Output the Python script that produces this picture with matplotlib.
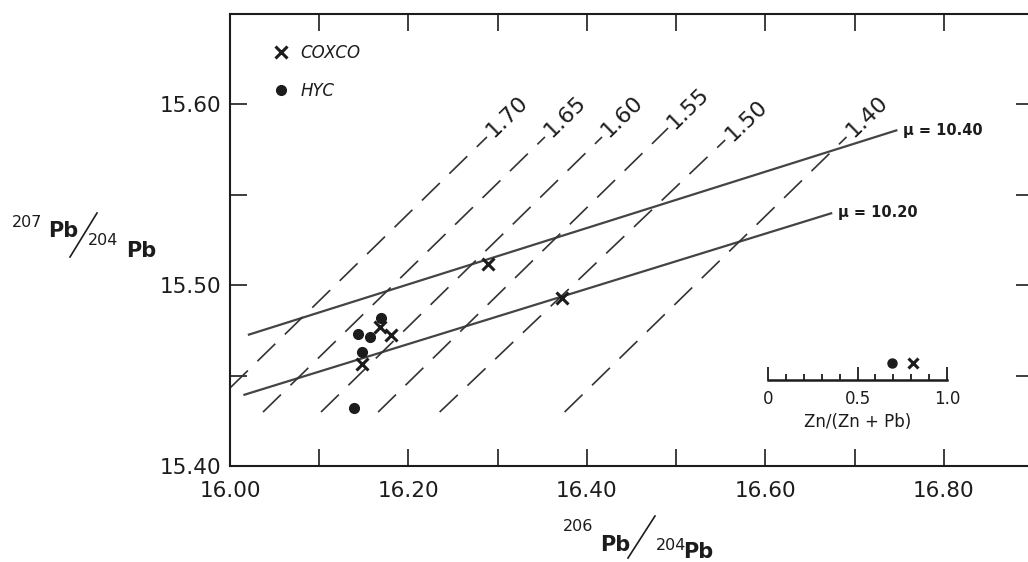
import math

import matplotlib
matplotlib.use("Agg")

import matplotlib.pyplot as plt
from matplotlib.lines import Line2D
from matplotlib.ticker import FuncFormatter, MultipleLocator

# ── Data ────────────────────────────────────────────────────────────────────
# growth curves (mu values), start / end points
mu_labels = ["μ = 10.40", "μ = 10.20"]
mu_x0 = [16.020, 16.015]
mu_y0 = [15.4724, 15.4392]
mu_x1 = [16.748, 16.675]
mu_y1 = [15.5856, 15.5398]

# dashed reference lines, start / end points
ref_labels = ["1.70", "1.65", "1.60", "1.55", "1.50", "1.40"]
ref_x0 = [16.000, 16.037, 16.102, 16.166, 16.235, 16.375]
ref_y0 = [15.4431, 15.4298, 15.4298, 15.4298, 15.4298, 15.4298]
ref_x1 = [16.288, 16.353, 16.417, 16.491, 16.555, 16.691]
ref_y1 = [15.5818, 15.5818, 15.5818, 15.5867, 15.5801, 15.5818]

# samples
coxco_x = [16.289, 16.372, 16.168, 16.181, 16.148]
coxco_y = [15.5116, 15.4927, 15.4766, 15.4721, 15.4566]
hyc_x = [16.169, 16.143, 16.157, 16.148, 16.139]
hyc_y = [15.4816, 15.4728, 15.4714, 15.4631, 15.4322]

# Zn/(Zn+Pb) inset
inset_x = [0.69, 0.81]
inset_y = [0.68, 0.68]
inset_marker = ["o", "x"]

_INK = "#1c1c1c"
_LINE = "#444444"

W, H = 1028, 562


def fx(px):
    return px / W


def fy(py):
    return 1 - py / H


fig = plt.figure(figsize=(W / 100, H / 100), dpi=100)
fig.patch.set_facecolor("white")

# main axes: 16.00 at x=230, 16.90 at x=1033 ; 15.40 at y=466, 15.65 at y=13.5
ax = fig.add_axes([fx(230), fy(466), (1033 - 230) / W, (466 - 13.5) / H])
ax.set_xlim(16.0, 16.9)
ax.set_ylim(15.40, 15.65)

for s in ax.spines.values():
    s.set_linewidth(1.5)
    s.set_color(_INK)

ax.xaxis.set_major_locator(MultipleLocator(0.1))
ax.yaxis.set_major_locator(MultipleLocator(0.05))
ax.xaxis.set_major_formatter(FuncFormatter(
    lambda v, p: f"{v:.2f}" if round(v * 10) % 2 == 0 else ""))
ax.yaxis.set_major_formatter(FuncFormatter(
    lambda v, p: f"{v:.2f}" if round(v * 100) % 10 == 0 else ""))
ax.tick_params(which="major", direction="in", length=12, width=1.2,
               top=True, right=True, colors=_INK, labelsize=15.5)
ax.tick_params(axis="x", pad=11)
ax.tick_params(axis="y", pad=6)

# solid mu lines
for lab, x0, y0, x1, y1 in zip(mu_labels, mu_x0, mu_y0, mu_x1, mu_y1):
    ax.plot([x0, x1], [y0, y1], color=_LINE, lw=1.6, solid_capstyle="butt")
    ax.annotate(lab, (x1, y1), xytext=(4, 0), textcoords="offset points",
                ha="left", va="center", fontsize=10.5, fontweight="bold",
                color=_INK)

# dashed reference lines with rotated labels
for lab, x0, y0, x1, y1 in zip(ref_labels, ref_x0, ref_y0, ref_x1, ref_y1):
    ax.plot([x0, x1], [y0, y1], color="#333333", lw=1.2,
            dashes=(15, 8))
    p0 = ax.transData.transform((x0, y0))
    p1 = ax.transData.transform((x1, y1))
    ang = math.degrees(math.atan2(p1[1] - p0[1], p1[0] - p0[0]))
    ax.annotate(lab, (x1, y1), xytext=(2, 2), textcoords="offset points",
                ha="left", va="center", rotation=ang,
                rotation_mode="anchor", fontsize=16, color=_INK)

# samples
ax.plot(coxco_x, coxco_y, "x", color=_INK, ms=8, mew=2.2, ls="none",
        label="COXCO")
ax.plot(hyc_x, hyc_y, "o", color=_INK, ms=7, ls="none", label="HYC")

leg = ax.legend(loc="upper left", bbox_to_anchor=(0.0548, 0.9326),
                frameon=False, borderpad=0, borderaxespad=0,
                handlelength=0.8, handletextpad=0.8, labelspacing=1.2,
                numpoints=1, prop={"size": 12, "style": "italic"})
for t in leg.get_texts():
    t.set_color(_INK)

# ── Inset scale: Zn/(Zn + Pb) ───────────────────────────────────────────────
ax_in = fig.add_axes([fx(768), fy(380), 179 / W, 25 / H])
ax_in.set_xlim(0, 1)
ax_in.set_ylim(0, 1)
ax_in.patch.set_alpha(0)
for k in ("top", "left", "right"):
    ax_in.spines[k].set_visible(False)
ax_in.spines["bottom"].set_linewidth(1.8)
ax_in.spines["bottom"].set_color(_INK)
ax_in.set_yticks([])
ax_in.set_xticks([0, 0.5, 1.0])
ax_in.set_xticklabels(["0", "0.5", "1.0"])
ax_in.xaxis.set_minor_locator(MultipleLocator(0.1))
ax_in.tick_params(axis="x", which="major", direction="in", length=9.5,
                  width=1.3, colors=_INK, labelsize=12, pad=7)
ax_in.tick_params(axis="x", which="minor", direction="in", length=4.5,
                  width=1.3, colors=_INK)
ax_in.set_xlabel("Zn/(Zn + Pb)", fontsize=12, color=_INK, labelpad=4)
for xv, yv, m in zip(inset_x, inset_y, inset_marker):
    if m == "x":
        ax_in.plot([xv], [yv], m, color=_INK, ms=7, mew=2.2, clip_on=False)
    else:
        ax_in.plot([xv], [yv], m, color=_INK, ms=6.5, clip_on=False)


# ── Axis labels built from pieces ───────────────────────────────────────────
def iso_label(x207, base_sup, x_pb1, base_pb1, slash, x204, base204,
              x_pb2, base_pb2, sup):
    fig.text(fx(x207), fy(base_sup), sup, fontsize=11.5, color=_INK,
             ha="left", va="baseline")
    fig.text(fx(x_pb1), fy(base_pb1), "Pb", fontsize=15, fontweight="bold",
             color=_INK, ha="left", va="baseline")
    fig.add_artist(Line2D([fx(slash[0]), fx(slash[2])],
                          [fy(slash[1]), fy(slash[3])],
                          color=_INK, lw=1.2, transform=fig.transFigure))
    fig.text(fx(x204), fy(base204), "204", fontsize=11.5, color=_INK,
             ha="left", va="baseline")
    fig.text(fx(x_pb2), fy(base_pb2), "Pb", fontsize=15, fontweight="bold",
             color=_INK, ha="left", va="baseline")


iso_label(12, 227, 48, 237, (70, 257, 97, 213), 88, 245, 126, 257, "207")
iso_label(563, 531, 600, 551, (628, 558, 655, 516), 656, 550, 683, 558, "206")

fig.savefig("out.png", dpi=100, facecolor="white")
plt.close(fig)
